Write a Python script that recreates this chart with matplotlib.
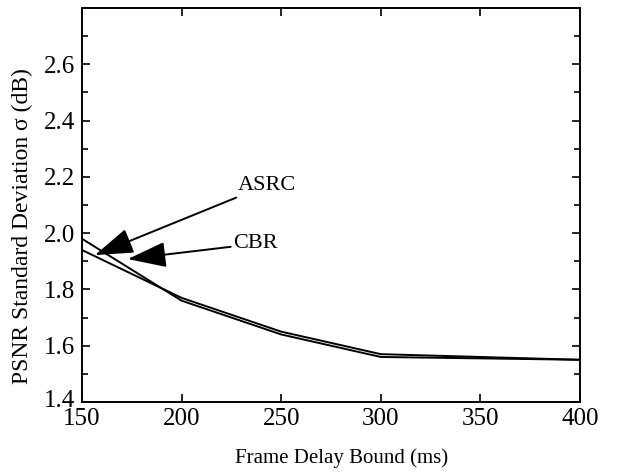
import matplotlib
matplotlib.use("Agg")
import matplotlib.pyplot as plt
from matplotlib.ticker import MultipleLocator
from matplotlib.transforms import ScaledTranslation

plt.rcParams['font.family'] = ['Liberation Serif', 'DejaVu Serif']

delay = [150, 200, 250, 300, 350, 400]
asrc = [1.98, 1.76, 1.64, 1.56, 1.555, 1.55]
cbr = [1.94, 1.77, 1.65, 1.57, 1.56, 1.55]

fig = plt.figure(figsize=(6.21, 4.73), dpi=100)
x0, x1, y0, y1 = 82, 580, 402, 8
ax = fig.add_axes([x0/621, (473-y0)/473, (x1-x0)/621, (y0-y1)/473])

ax.plot(delay, asrc, color='black', lw=1.4)
ax.plot(delay, cbr, color='black', lw=1.4)

ax.set_xlim(150, 400)
ax.set_ylim(1.4, 2.8)
ax.set_xticks([150, 200, 250, 300, 350, 400])
ax.set_yticks([1.4, 1.6, 1.8, 2.0, 2.2, 2.4, 2.6])
ax.yaxis.set_minor_locator(MultipleLocator(0.1))
ax.tick_params(axis='both', which='both', direction='in', top=True, right=True,
               labelsize=18, width=1.2)
ax.tick_params(which='major', length=6)
ax.tick_params(which='minor', length=4)
ax.tick_params(axis='x', pad=4)
ax.tick_params(axis='y', pad=5)
for s in ax.spines.values():
    s.set_linewidth(1.4)

fig.canvas.draw()
lab = ax.get_yticklabels()[0]
lab.set_transform(lab.get_transform() + ScaledTranslation(0, 4/100, fig.dpi_scale_trans))

ax.set_xlabel('Frame Delay Bound (ms)', fontsize=15)
ax.xaxis.set_label_coords((342 - x0) / (x1 - x0), -(448 - y0) / (y0 - y1))
ax.set_ylabel('PSNR Standard Deviation σ (dB)', fontsize=17)
ax.yaxis.set_label_coords(-(x0 - 33) / (x1 - x0), (y0 - 226) / (y0 - y1))

arrow = dict(arrowstyle='-|>,head_length=1.5,head_width=0.5', color='black', lw=1.4,
             shrinkA=0, shrinkB=0)
ax.annotate('ASRC', xy=(156.5, 1.922), xytext=(228, 2.17), fontsize=16,
            va='center', ha='left', arrowprops=arrow)
ax.annotate('CBR', xy=(173, 1.908), xytext=(226, 1.962), fontsize=16,
            va='center', ha='left', arrowprops=arrow)

fig.savefig('out.png', dpi=100)
